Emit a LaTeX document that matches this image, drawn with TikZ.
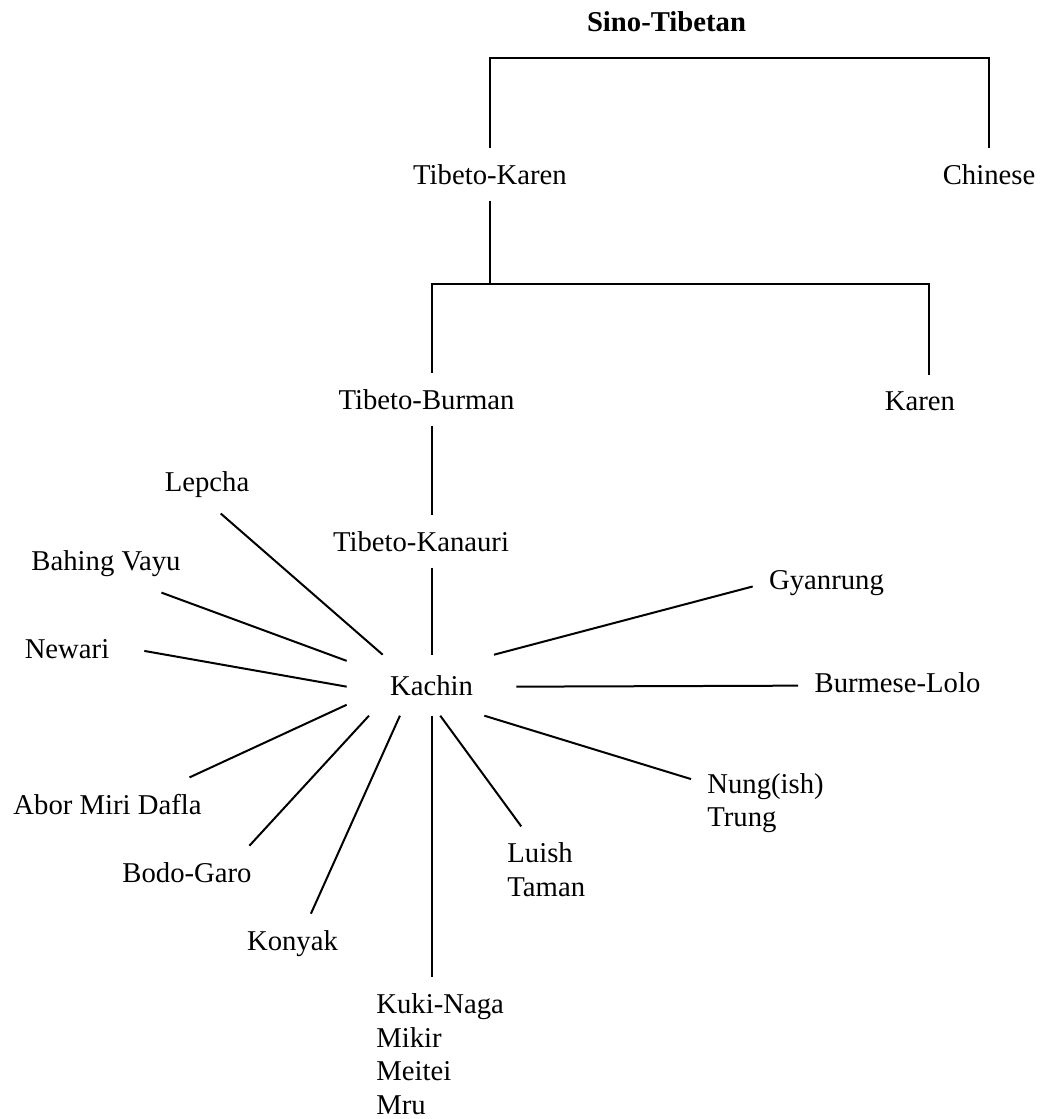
\documentclass[tikz,border=0pt]{standalone}
\usepackage{fontspec}
\setmainfont{Liberation Serif}

\begin{document}
\begin{tikzpicture}[x=0.5pt, y=-0.5pt,
  lang/.style={inner sep=8pt, anchor=base, font=\fontsize{14.35pt}{16.75pt}\selectfont},
  group/.style={lang, align=left, anchor=north west},
  branch/.style={line width=1pt}]
  \useasboundingbox (0,0) rectangle (1048,1119);

  % upper levels
  \node[lang, font=\fontsize{14.35pt}{16.75pt}\selectfont\bfseries, inner ysep=12.5pt] (sinotib) at (666.5,32) {Sino-Tibetan};
  \node[lang] (tibkaren) at (490,184) {Tibeto-Karen};
  \node[lang] (chinese) at (989,184) {Chinese};
  \node[lang] (tibburman) at (426.5,409) {Tibeto-Burman};
  \node[lang] (karen) at (920,410) {Karen};
  \node[lang] (tibkanauri) at (421,551) {Tibeto-Kanauri};
  \node[lang, inner xsep=21.5pt, inner ysep=10pt] (kachin) at (431.5,695) {Kachin};

  % groups round Kachin
  \node[lang] (lepcha) at (207,491) {Lepcha};
  \node[lang] (bahing) at (106,570) {Bahing Vayu};
  \node[lang] (newari) at (67,658) {Newari};
  \node[lang] (abor) at (107.5,814) {Abor Miri Dafla};
  \node[lang] (bodo) at (187,882) {Bodo-Garo};
  \node[lang] (konyak) at (292.5,950) {Konyak};
  \node[group] (kuki) at (360,977.4) {Kuki-Naga\\Mikir\\Meitei\\Mru};
  \node[group] (luish) at (491,826.4) {Luish\\Taman};
  \node[group] (nung) at (691,757.1) {Nung(ish)\\Trung};
  \node[lang] (burmlolo) at (897.5,692) {Burmese-Lolo};
  \node[lang] (gyanrung) at (826.5,589) {Gyanrung};

  % tree lines
  \draw[branch] (tibkaren.north) |- (sinotib.south) -| (chinese.north);
  \draw[branch] (tibkaren.south) -- ++(0,83) coordinate (tkfork);
  \draw[branch] (tibburman.north -| kachin.north) |- (tkfork) -| ([xshift=4.5pt]karen.north);
  \draw[branch] (tibburman.south -| kachin.north) -- (tibkanauri.north -| kachin.north);
  \draw[branch] (tibkanauri.south -| kachin.north) -- (kachin.north);

  % star of Kachin
  \draw[branch] (kachin.148) -- (lepcha.-65);
  \draw[branch] (kachin.164.9) -- (bahing.-28.1);
  \draw[branch, shorten >=9.5pt] (kachin.181.2) -- (newari.1.65);
  \draw[branch] (kachin.193.3) -- (abor.18.7);
  \draw[branch] (kachin.206.4) -- (bodo.23.4);
  \draw[branch] (kachin.224.6) -- (konyak.58.2);
  \draw[branch] (kachin.south) -- (kachin.south |- kuki.north);
  \draw[branch] (kachin.-74.1) -- (luish.120);
  \draw[branch] (kachin.-30.5) -- (nung.162.9);
  \draw[branch] (kachin.-1.3) -- (burmlolo.182.8);
  \draw[branch] (kachin.26.8) -- (gyanrung.183.6);
\end{tikzpicture}
\end{document}
